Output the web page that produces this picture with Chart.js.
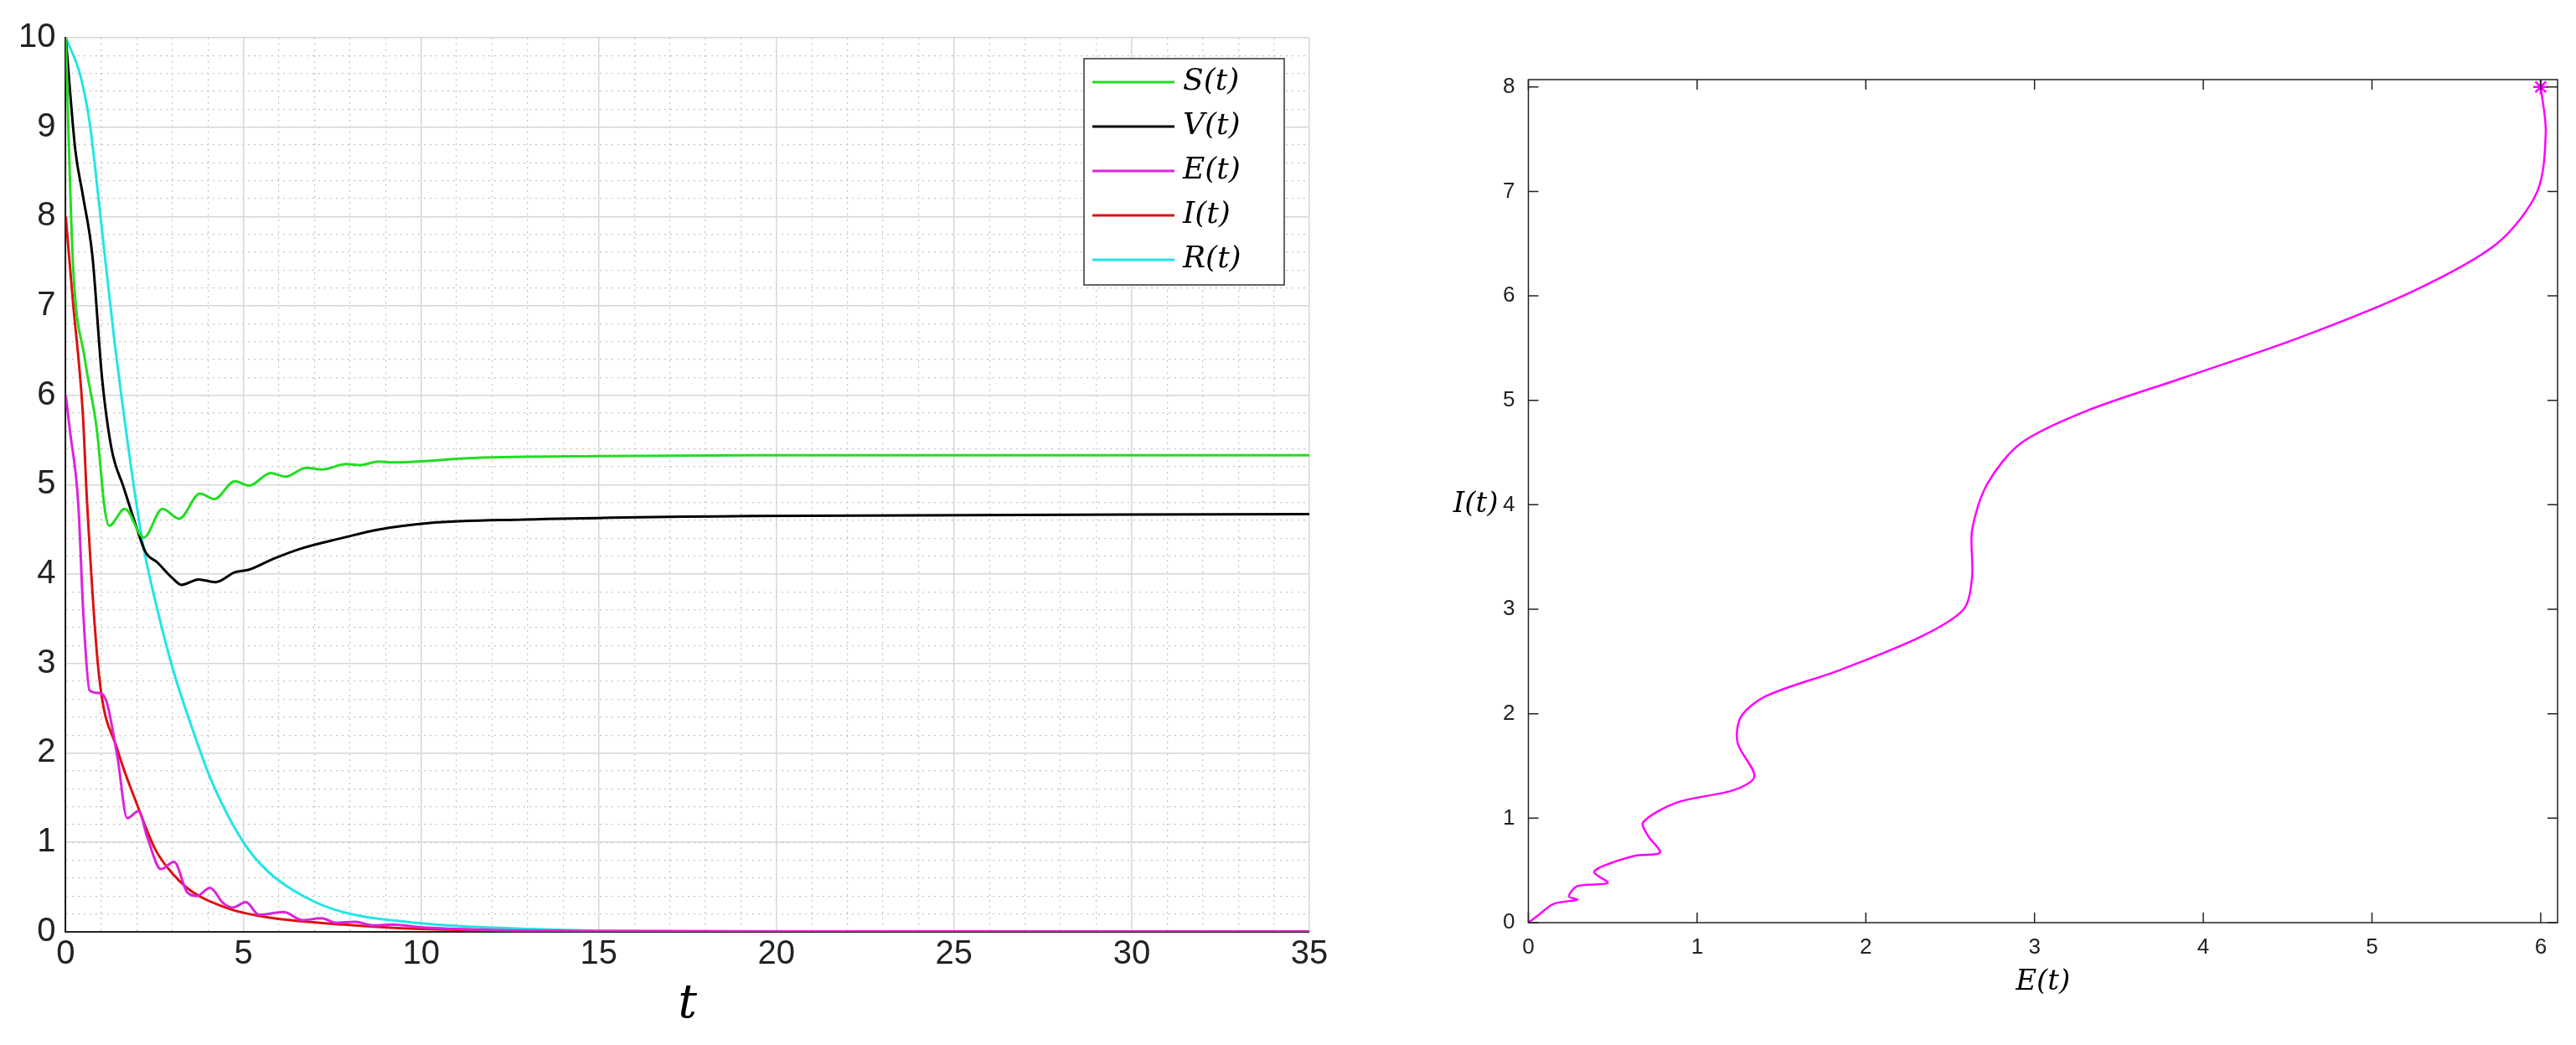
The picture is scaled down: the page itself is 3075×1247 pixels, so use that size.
<!DOCTYPE html>
<html><head><meta charset="utf-8">
<script src="https://cdn.jsdelivr.net/npm/chart.js@4/dist/chart.umd.min.js"></script>
<style>
html,body{margin:0;padding:0;background:#fff;width:3075px;height:1247px;overflow:hidden}
#a{position:absolute;left:0;top:0;width:1610px;height:1247px}
#b{position:absolute;left:1650px;top:0;width:1425px;height:1247px}
</style></head><body>
<div id="a"><canvas id="c1"></canvas></div>
<div id="b"><canvas id="c2"></canvas></div>
<script>
const seriesNames=["S(t)","V(t)","E(t)","I(t)","R(t)"];
const seriesColors=["#22dd22","#000000","#dd22dd","#dd1111","#22e5e5"];
const S_t=[0,0.2,0.54,0.88,1.09,1.22,1.66,2.2,2.72,3.19,3.78,4.18,4.76,5.16,5.77,6.18,6.77,7.2,7.9,8.3,8.8,9.2,11.5,15,19.3,35];
const S_v=[10,7.5,6.4,5.6,4.75,4.54,4.73,4.41,4.73,4.62,4.9,4.84,5.04,4.99,5.13,5.09,5.19,5.17,5.23,5.22,5.26,5.25,5.3,5.32,5.33,5.33];
const V_t=[0,0.27,0.48,0.75,1.02,1.29,1.63,1.97,2.24,2.58,2.99,3.26,3.74,4.21,4.76,5.16,5.84,6.66,7.74,8.83,10.2,12.9,19.3,35];
const V_v=[10,8.74,8.24,7.56,6.2,5.4,4.97,4.55,4.25,4.13,3.96,3.88,3.94,3.91,4.02,4.05,4.17,4.29,4.4,4.5,4.57,4.61,4.65,4.67];
const E_t=[0,0.12,0.35,0.5,0.67,0.93,1.15,1.46,1.73,2.05,2.3,2.68,3.05,3.42,3.69,4.06,4.43,4.7,5.07,5.44,6.13,6.66,7.2,7.6,8.14,8.67,9.2,10,12,15,35];
const E_v=[6,5.6,4.8,3.52,2.7,2.67,2.57,1.94,1.27,1.35,1.05,0.7,0.78,0.44,0.4,0.49,0.32,0.27,0.33,0.19,0.22,0.13,0.15,0.1,0.11,0.07,0.08,0.05,0.02,0.005,0];
const I_t=[0,0.2,0.48,0.6,0.93,1.46,2.0,2.52,3.05,3.58,4.64,5.7,7.8,10,15,35];
const I_v=[8,7.06,5.8,4.8,2.89,2.03,1.43,0.92,0.63,0.44,0.25,0.16,0.08,0.03,0.005,0];
const R_t=[0,0.41,0.68,0.95,1.36,1.77,2.17,2.63,3.05,3.58,4.11,5,5.7,6.77,7.8,10,13.1,15,20,35];
const R_v=[10,9.58,9.03,8.1,6.64,5.39,4.34,3.52,2.89,2.25,1.68,1.0,0.67,0.38,0.22,0.095,0.03,0.01,0.002,0];
const phaseE=[6,6.03,5.98,5.74,5.25,4.57,3.89,3.31,2.92,2.72,2.63,2.63,2.58,2.33,1.85,1.41,1.26,1.24,1.34,1.22,0.88,0.68,0.71,0.78,0.63,0.44,0.39,0.47,0.29,0.24,0.29,0.15,0.05,0];
const phaseI=[8,7.57,7.0,6.5,6.05,5.6,5.22,4.9,4.59,4.2,3.76,3.31,3.0,2.74,2.42,2.17,1.97,1.72,1.4,1.27,1.15,0.96,0.83,0.67,0.64,0.54,0.48,0.38,0.35,0.25,0.22,0.18,0.06,0];
const xTicksLeft=[0,5,10,15,20,25,30,35];
const yTicksLeft=[0,1,2,3,4,5,6,7,8,9,10];

const pts=(xs,ys)=>xs.map((x,i)=>({x,y:ys[i]}));
const allT=[S_t,V_t,E_t,I_t,R_t], allV=[S_v,V_v,E_v,I_v,R_v];
const ds=seriesNames.map((n,k)=>({label:n,data:pts(allT[k],allV[k]),borderColor:seriesColors[k],borderWidth:3,pointRadius:0,cubicInterpolationMode:'monotone',fill:false}));

const legendPlugin={id:'lg',afterDraw(ch){
  const c=ch.ctx;c.save();
  const x0=1294,y0=70,w=239,h=270;
  c.fillStyle='#fff';c.fillRect(x0,y0,w,h);c.strokeStyle='#333';c.lineWidth=1.5;c.strokeRect(x0,y0,w,h);
  seriesNames.forEach((n,k)=>{const y=y0+28+k*53;
    c.strokeStyle=seriesColors[k];c.lineWidth=3;c.beginPath();c.moveTo(x0+10,y);c.lineTo(x0+108,y);c.stroke();
    c.fillStyle='#000';c.font='italic 36px "DejaVu Serif", serif';c.textBaseline='middle';c.fillText(n,x0+118,y);});
  c.restore();}};

const tickFont={size:40,family:'"Liberation Sans", Arial'};
new Chart(document.getElementById('c1'),{type:'line',data:{datasets:ds},plugins:[legendPlugin],
 options:{responsive:true,maintainAspectRatio:false,animation:false,parsing:false,
  layout:{padding:{top:45,right:47,left:10,bottom:10}},
  plugins:{legend:{display:false},tooltip:{enabled:false}},
  scales:{
   x:{type:'linear',min:0,max:35,
     ticks:{stepSize:1,autoSkip:false,maxRotation:0,color:'#222',font:tickFont,callback:v=>xTicksLeft.includes(v)?String(v):''},
     grid:{color:'#c4c4c4',lineWidth:1.2,drawTicks:false},
     border:{color:'#222',width:2,dash:[2,5]},
     title:{display:true,text:'t',color:'#000',font:{size:56,style:'italic',family:'"DejaVu Serif", serif'},padding:{top:0}}},
   y:{type:'linear',min:0,max:10,
     ticks:{stepSize:0.2,autoSkip:false,color:'#222',padding:12,font:tickFont,callback:v=>{const r=Math.round(v);return Math.abs(v-r)<1e-6&&yTicksLeft.includes(r)?String(r):''}},
     grid:{color:'#c4c4c4',lineWidth:1.2,drawTicks:false},
     border:{color:'#222',width:2,dash:[2,5]}},
   xM:{type:'linear',min:0,max:35,position:'bottom',afterBuildTicks:s=>{s.ticks=xTicksLeft.map(v=>({value:v}))},
     ticks:{display:false},grid:{color:'#d8d8d8',lineWidth:1.5,drawTicks:false},border:{display:false}},
   yM:{type:'linear',min:0,max:10,position:'left',afterBuildTicks:s=>{s.ticks=yTicksLeft.map(v=>({value:v}))},
     ticks:{display:false},grid:{color:'#d8d8d8',lineWidth:1.5,drawTicks:false},border:{display:false}}
  }}});
const boxPlugin={id:'box',afterDraw(ch){
  const c=ch.ctx,a=ch.chartArea,xs=ch.scales.x,ys=ch.scales.y;c.save();
  c.strokeStyle='#222';c.lineWidth=1.5;c.strokeRect(a.left,a.top,a.right-a.left,a.bottom-a.top);
  c.beginPath();
  for(let v=0;v<=6;v++){const p=xs.getPixelForValue(v);c.moveTo(p,a.bottom);c.lineTo(p,a.bottom-12);c.moveTo(p,a.top);c.lineTo(p,a.top+12);}
  for(let v=0;v<=8;v++){const p=ys.getPixelForValue(v);c.moveTo(a.left,p);c.lineTo(a.left+12,p);c.moveTo(a.right,p);c.lineTo(a.right-12,p);}
  c.stroke();
  c.fillStyle='#000';c.font='italic 34px "DejaVu Serif", serif';c.textAlign='right';c.textBaseline='middle';
  c.fillText('I(t)',a.left-36,ys.getPixelForValue(4));
  c.restore();}};
new Chart(document.getElementById('c2'),{type:'scatter',plugins:[boxPlugin],
 data:{datasets:[
  {label:'E-I',data:pts(phaseE,phaseI),showLine:true,borderColor:'#ff00ff',borderWidth:2.5,pointRadius:0,tension:0.3},
  {label:'start',data:[{x:phaseE[0],y:phaseI[0]}],pointStyle:'star',pointRadius:9,borderColor:'#ff00ff',borderWidth:2.5,showLine:false}
 ]},
 options:{responsive:true,maintainAspectRatio:false,animation:false,parsing:false,
  layout:{padding:{top:95,right:22,left:136,bottom:50}},
  plugins:{legend:{display:false},tooltip:{enabled:false}},
  scales:{
   x:{type:'linear',min:0,max:6.1,afterBuildTicks:s=>{s.ticks=[0,1,2,3,4,5,6].map(v=>({value:v}))},
     ticks:{color:'#222',maxRotation:0,font:{size:26,family:'"Liberation Sans", Arial'},padding:6},
     grid:{display:false},border:{display:false},
     title:{display:true,text:'E(t)',color:'#000',font:{size:34,style:'italic',family:'"DejaVu Serif", serif'},padding:{top:0}}},
   y:{type:'linear',min:0,max:8.07,afterBuildTicks:s=>{s.ticks=[0,1,2,3,4,5,6,7,8].map(v=>({value:v}))},
     ticks:{color:'#222',font:{size:26,family:'"Liberation Sans", Arial'},padding:8},
     grid:{display:false},border:{display:false}}
  }}});
</script></body></html>
